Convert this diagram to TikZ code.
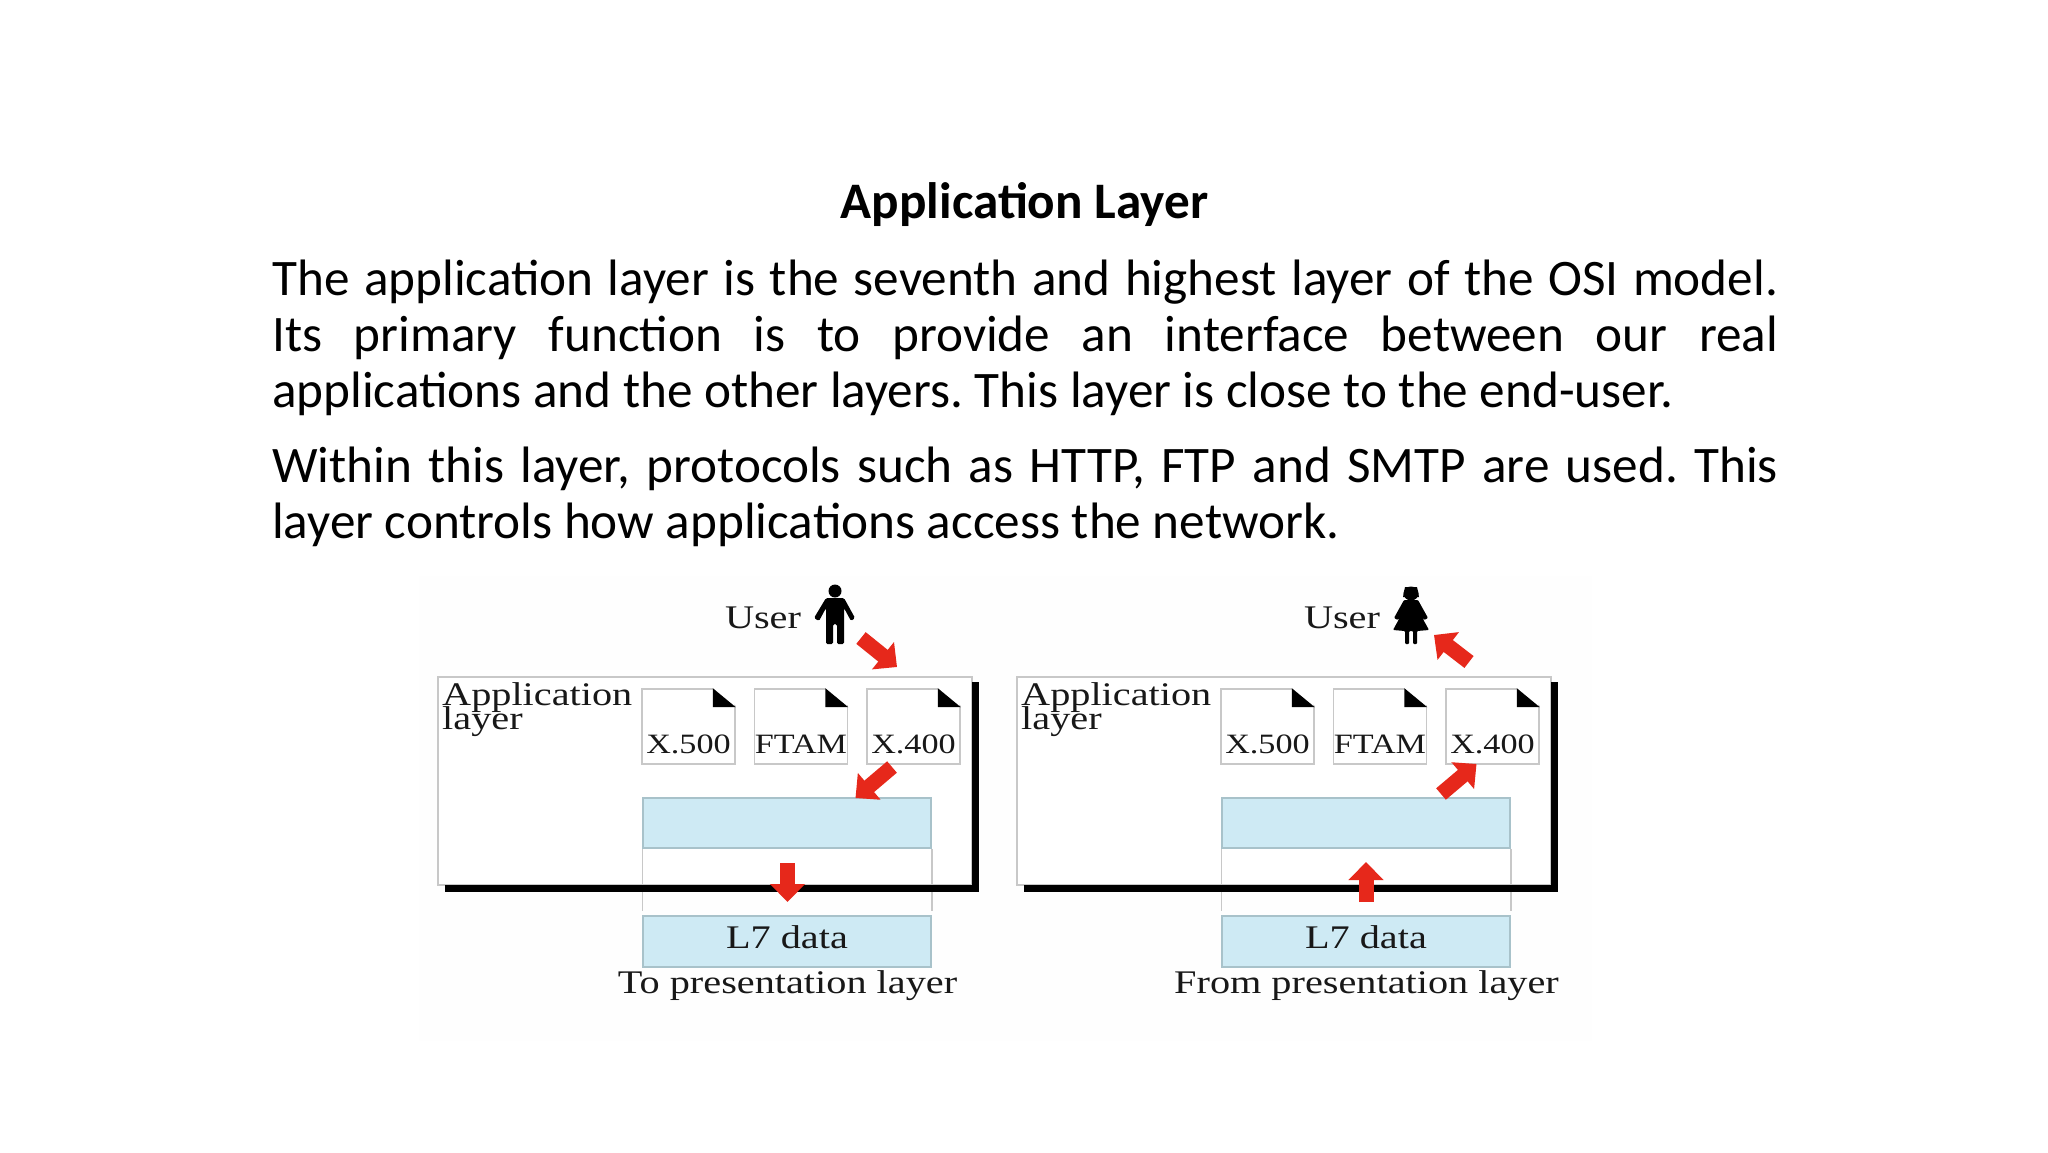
\documentclass[tikz,border=0pt]{standalone}
\usepackage{fontspec}
\usetikzlibrary{arrows.meta,calc}
\setmainfont{Carlito}
\newfontfamily\figfont{Liberation Serif}[FakeStretch=1.22]
\definecolor{boxgrey}{HTML}{C8C8C8}
\definecolor{l7blue}{HTML}{CEEAF4}
\definecolor{l7edge}{HTML}{A8C2CA}
\definecolor{flowred}{HTML}{E6281B}
\definecolor{figink}{HTML}{181818}
\tikzset{
  title/.style={inner sep=0,anchor=base,font=\bfseries\fontsize{51.2}{56}\selectfont},
  body/.style={inner sep=0,anchor=north west,text width=1506pt,align=justify,
    font=\frenchspacing\fontsize{51.2}{55.8}\selectfont},
  figtxt/.style={inner sep=0,anchor=base,text=figink,font=\figfont\fontsize{33}{24}\selectfont},
  doctxt/.style={inner sep=0,anchor=base,text=figink,font=\figfont\fontsize{28}{28}\selectfont},
  doc/.style={draw=boxgrey,line width=1.6pt,fill=white,minimum width=93pt,minimum height=75pt,inner sep=0},
  l7/.style={draw=l7edge,line width=1.6pt,fill=l7blue,minimum width=288pt,inner sep=0},
  flow/.style={draw=flowred,line width=15pt,
    -{Triangle[length=18pt,width=34pt,fill=flowred]}},
  person/.style={fill=black,draw=none},
}
% one panel: #1 name prefix, #2 x offset, #3 caption
\newcommand{\layerpanel}[3]{
  \begin{scope}[shift={(#2,0)}]
    \node[draw=boxgrey,line width=2.4pt,fill=white,minimum width=534pt,minimum height=208pt,inner sep=0]
      (#1frame) at (705,781) {};
    \node[l7,minimum height=50pt] (#1pdu) at (787,823) {};
    \node[l7,text=figink,font=\figfont\fontsize{33}{33}\selectfont,text height=22pt,text depth=9pt,minimum height=51pt]
      (#1data) at (787,941.5) {L7 data};
    \draw[boxgrey,line width=1.4pt] (#1pdu.south west) -- ($(#1pdu.south west)+(0,62)$);
    \draw[boxgrey,line width=1.4pt] (#1pdu.south east) -- ($(#1pdu.south east)+(0,62)$);
    \draw[black,line width=7pt] (445,888) -- (975.5,888) -- (975.5,682);
    \foreach \n/\x/\t in {a/688.5/X.500,b/801/FTAM,c/913.5/X.400}{
      \node[doc] (#1doc\n) at (\x,726.5) {};
      \fill[white] ($(#1doc\n.north east)+(-23,0)$) -- ($(#1doc\n.north east)+(2,0)$) -- ($(#1doc\n.north east)+(2,19)$) -- cycle;
      \fill[black] ($(#1doc\n.north east)+(-23,0)$) -- ($(#1doc\n.north east)+(-23,19)$) -- ($(#1doc\n.north east)+(0,19)$) -- cycle;
      \node[doctxt] at ($(#1doc\n.south)+(0,-11)$) {\t};
    }
    \node[figtxt,anchor=base west] at (442,705) {Application};
    \node[figtxt,anchor=base west] at (442,729) {layer};
    \node[figtxt] at (763,628) {User};
    \node[figtxt] at (787.5,993) {#3};
  \end{scope}
}
\begin{document}
\begin{tikzpicture}[x=1pt,y=-1pt]
  \useasboundingbox (0,0) rectangle (2048,1152);
  \fill[white] (0,0) rectangle (2048,1152);
  \fill[black!0.5] (419,576) rectangle (1592,1041);

  \node[title] (head) at (1024.5,218) {Application Layer};
  \node[body] (p1) at (272,260) {The application layer is the seventh and highest layer of the OSI model.\linebreak Its primary function is to provide an interface between our real\linebreak applications and the other layers. This layer is close to the end-user.};
  \node[body] (p2) at (272,447) {Within this layer, protocols such as HTTP, FTP and SMTP are used. This\linebreak layer controls how applications access the network.};

  \layerpanel{l}{0}{To presentation layer}
  \layerpanel{r}{579}{From presentation layer}

  % man
  \fill[person] (835,591) circle (6.5);
  \fill[person,rounded corners=1.5pt] (826,598) -- (844,598) -- (855,618) -- (851,621) -- (844,608)
    -- (844,644) -- (837,644) -- (837,624) -- (833,624) -- (833,644) -- (826,644) -- (826,608)
    -- (819,621) -- (814,618) -- cycle;
  % woman
  \fill[person] (1411,593.5) ellipse (7.5 and 7);
  \fill[person] (1403,597) -- (1419,597) -- (1417,587) -- (1405,587) -- cycle;
  \fill[person,rounded corners=1pt] (1404,600) -- (1418,600) -- (1428,618) -- (1424,620) -- (1418,610)
    -- (1429,630) -- (1417,631) -- (1417,644) -- (1413,644) -- (1413,631) -- (1409,631) -- (1409,644)
    -- (1405,644) -- (1405,631) -- (1393,630) -- (1404,610) -- (1398,620) -- (1394,618) -- cycle;

  % flow, left panel
  \coordinate (la) at (861,638);
  \coordinate (lb) at (897,667);
  \coordinate (lc) at (892,767);
  \coordinate (ld) at (855.5,798);
  \coordinate (le) at (787.5,863);
  \coordinate (lf) at (787.5,902);
  \draw[flow] (la) -- (lb);
  \draw[flow] (lc) -- (ld);
  \draw[flow] (le) -- (lf);
  % flow, right panel
  \coordinate (ra) at (1469,662);
  \coordinate (rb) at (1434,635);
  \coordinate (rc) at (1441,794);
  \coordinate (rd) at (1476.5,764);
  \coordinate (re) at (1366,902);
  \coordinate (rf) at (1366,862);
  \draw[flow] (ra) -- (rb);
  \draw[flow] (rc) -- (rd);
  \draw[flow] (re) -- (rf);
\end{tikzpicture}
\end{document}
